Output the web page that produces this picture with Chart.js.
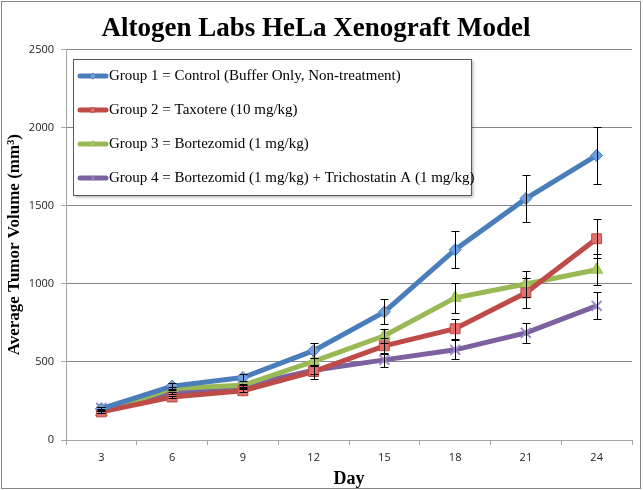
<!DOCTYPE html>
<html>
<head>
<meta charset="utf-8">
<script src="https://cdn.jsdelivr.net/npm/chart.js@4"></script>
<style>
  html, body { margin: 0; padding: 0; background: #fff; }
  #wrap { width: 643px; height: 490px; }
</style>
</head>
<body>
<div id="wrap"><canvas id="xenoChart" width="643" height="490"></canvas></div>
<script>
// data
const days = ['3', '6', '9', '12', '15', '18', '21', '24'];
const groupNames = [
    'Group 1 = Control (Buffer Only, Non-treatment)',
    'Group 2 = Taxotere (10 mg/kg)',
    'Group 3 = Bortezomid (1 mg/kg)',
    'Group 4 = Bortezomid (1 mg/kg) + Trichostatin A (1 mg/kg)'
];
const group1 = [200, 345, 400, 572, 820, 1218, 1545, 1821];
const group2 = [180, 275, 315, 438, 603, 712, 942, 1288];
const group3 = [178, 330, 350, 503, 667, 910, 998, 1090];
const group4 = [205, 300, 345, 447, 513, 577, 686, 859];
const group1Err = [10, 20, 25, 50, 80, 120, 150, 180];
const group2Err = [6, 8, 10, 45, 50, 65, 95, 125];
const group3Err = [5, 8, 10, 20, 45, 95, 85, 100];
const group4Err = [6, 8, 10, 25, 45, 60, 65, 87];
const yTicks = [0, 500, 1000, 1500, 2000, 2500];

const lineColors = ['#4A7EBB', '#BE4B48', '#98B954', '#7D60A0'];
const fillColors = ['#6F9FDC', '#E0716D', '#A9CC62', '#9C88C6'];
const markers = ['rectRot', 'rect', 'triangle', 'crossRot'];
const markerSizes = [6, 7, 7, 7];

document.addEventListener('DOMContentLoaded', function () {
    const ctx = document.getElementById('xenoChart').getContext('2d');
    const values = [group1, group2, group3, group4];
    const errors = [group1Err, group2Err, group3Err, group4Err];

    const datasets = values.map((vals, i) => ({
        label: groupNames[i],
        data: vals,
        borderColor: lineColors[i],
        backgroundColor: fillColors[i],
        pointBackgroundColor: fillColors[i],
        pointBorderColor: i === 3 ? fillColors[i] : lineColors[i],
        pointBorderWidth: i === 3 ? 2 : 1,
        pointStyle: markers[i],
        pointRadius: markerSizes[i],
        borderWidth: 5,
        tension: 0,
        errors: errors[i]
    }));

    // error bars drawn through the y scale
    const errorBars = {
        id: 'errorBars',
        afterDatasetsDraw(chart) {
            const c = chart.ctx;
            const y = chart.scales.y;
            c.save();
            c.strokeStyle = '#000';
            c.lineWidth = 1;
            chart.data.datasets.forEach((ds, i) => {
                const meta = chart.getDatasetMeta(i);
                meta.data.forEach((pt, j) => {
                    const v = ds.data[j], e = ds.errors[j];
                    const x = Math.round(pt.x) + 0.5;
                    const top = Math.round(y.getPixelForValue(v + e)) + 0.5;
                    const bot = Math.round(y.getPixelForValue(v - e)) + 0.5;
                    c.beginPath();
                    c.moveTo(x, top); c.lineTo(x, bot);
                    c.moveTo(x - 4, top); c.lineTo(x + 4, top);
                    c.moveTo(x - 4, bot); c.lineTo(x + 4, bot);
                    c.stroke();
                });
            });
            c.restore();
        }
    };

    // legend box inside the plot area, as in the reference
    const boxLegend = {
        id: 'boxLegend',
        afterDraw(chart) {
            const c = chart.ctx;
            const left = 73, top = 59, w = 398, h = 136;
            c.save();
            c.shadowColor = 'rgba(0,0,0,0.35)';
            c.shadowOffsetX = 2;
            c.shadowOffsetY = 2;
            c.shadowBlur = 3;
            c.fillStyle = '#fff';
            c.fillRect(left, top, w, h);
            c.shadowColor = 'transparent';
            c.strokeStyle = '#595959';
            c.lineWidth = 1;
            c.strokeRect(left + 0.5, top + 0.5, w, h);
            c.font = '15px "Liberation Serif", "Times New Roman", serif';
            c.textBaseline = 'middle';
            c.fillStyle = '#000';
            chart.data.datasets.forEach((ds, i) => {
                const cy = 76 + i * 34;
                c.strokeStyle = ds.borderColor;
                c.lineWidth = 5;
                c.lineCap = 'round';
                c.beginPath();
                c.moveTo(80, cy); c.lineTo(106, cy);
                c.stroke();
                c.fillStyle = ds.backgroundColor;
                c.strokeStyle = ds.pointBorderColor;
                c.lineWidth = 1;
                Chart.helpers.drawPoint(c, {
                    pointStyle: ds.pointStyle, radius: 3, borderWidth: 1, rotation: 0
                }, 93, cy);
                c.fillStyle = '#000';
                c.fillText(ds.label, 109, cy);
            });
            c.restore();
        },
        beforeDraw(chart) {
            const c = chart.ctx;
            c.save();
            c.fillStyle = '#fff';
            c.fillRect(0, 0, chart.width, chart.height);
            c.restore();
        },
        afterRender(chart) {
            const c = chart.ctx;
            c.save();
            c.strokeStyle = '#868686';
            c.lineWidth = 1;
            c.strokeRect(1.5, 1.5, 639, 487);
            c.restore();
        }
    };

    new Chart(ctx, {
        type: 'line',
        data: { labels: days, datasets: datasets },
        options: {
            responsive: false,
            animation: false,
            layout: { padding: { left: 0, right: 11, top: 0, bottom: 0 } },
            plugins: {
                legend: { display: false },
                tooltip: { enabled: false },
                title: {
                    display: true,
                    text: 'Altogen Labs HeLa Xenograft Model',
                    color: '#000',
                    font: { family: '"Liberation Serif", "Times New Roman", serif', size: 27, weight: 'bold' },
                    padding: { top: 13, bottom: 4 }
                }
            },
            scales: {
                x: {
                    offset: true,
                    afterFit(scale) { scale.height = 50; },
                    grid: {
                        offset: true,
                        drawOnChartArea: false,
                        drawTicks: true,
                        tickLength: 5,
                        tickColor: '#A6A6A6'
                    },
                    border: { color: '#A6A6A6', width: 1 },
                    ticks: {
                        color: '#222',
                        padding: 6,
                        font: { family: '"Open Sans", "DejaVu Sans", sans-serif', size: 11 }
                    },
                    title: {
                        display: true,
                        text: 'Day',
                        color: '#000',
                        padding: { top: 0, bottom: 0 },
                        font: { family: '"Liberation Serif", "Times New Roman", serif', size: 18, weight: 'bold' }
                    }
                },
                y: {
                    min: 0,
                    max: 2500,
                    afterFit(scale) { scale.width = 66; },
                    afterBuildTicks(scale) { scale.ticks = yTicks.map(v => ({ value: v })); },
                    grid: {
                        color: '#878787',
                        tickColor: '#A6A6A6',
                        tickLength: 5
                    },
                    border: { color: '#A6A6A6', width: 1 },
                    ticks: {
                        color: '#222',
                        padding: 7,
                        callback: v => String(v),
                        font: { family: '"Open Sans", "DejaVu Sans", sans-serif', size: 11 }
                    },
                    title: {
                        display: true,
                        text: 'Average Tumor Volume (mm\u00B3)',
                        color: '#000',
                        padding: { top: 4, bottom: 0 },
                        font: { family: '"Liberation Serif", "Times New Roman", serif', size: 17, weight: 'bold' }
                    }
                }
            }
        },
        plugins: [errorBars, boxLegend]
    });
});
</script>
</body>
</html>
